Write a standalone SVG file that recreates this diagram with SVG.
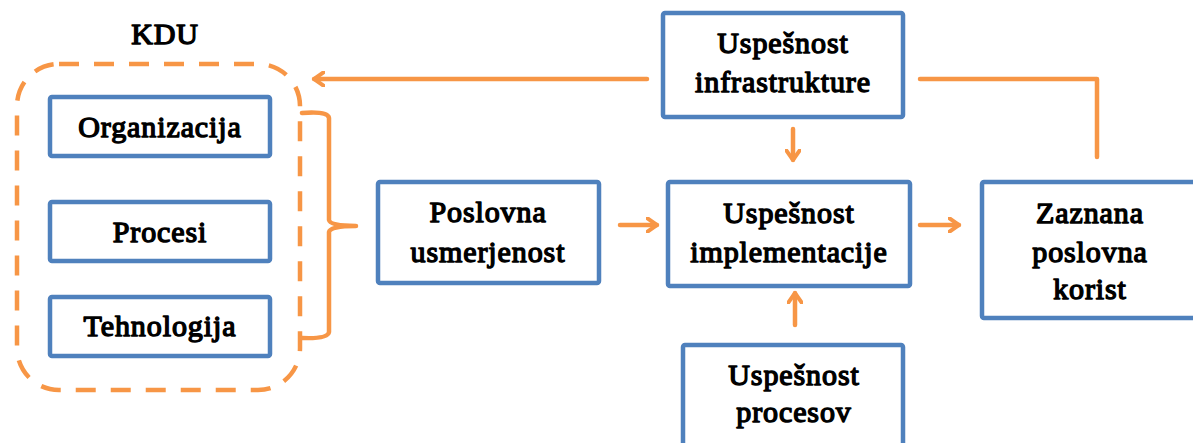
<svg xmlns="http://www.w3.org/2000/svg" width="1193" height="443" viewBox="0 0 1193 443">
<style>
.box{fill:#fff;stroke:#4F81BD;stroke-width:4.5}
.t{font-family:'Liberation Serif','Times New Roman',serif;font-weight:400;font-size:30px;letter-spacing:0.9px;text-anchor:middle;fill:#000;stroke:#000;stroke-width:1.4px;stroke-linejoin:round}
.c{fill:none;stroke:#F79646;stroke-width:4.5;stroke-linecap:round;stroke-linejoin:round}
</style>
<defs>
<marker id="ah" viewBox="0 0 12 16" refX="11" refY="8" markerWidth="12" markerHeight="16" markerUnits="userSpaceOnUse" orient="auto">
<path d="M1,1 L11,8 L1,15" fill="none" stroke="#F79646" stroke-width="4" stroke-linecap="round" stroke-linejoin="round"/>
</marker>
</defs>
<rect width="1193" height="443" fill="#fff"/>
<g id="kdu">
<rect x="17" y="64" width="283" height="326" rx="42" fill="none" stroke="#F79646" stroke-width="4.5" stroke-dasharray="20,15"/>
<text class="t" x="165" y="44">KDU</text>
</g>
<g id="organizacija"><rect class="box" x="50" y="97" width="220" height="59" rx="2"/><text class="t" x="160" y="137">Organizacija</text></g>
<g id="procesi"><rect class="box" x="50" y="202" width="220" height="59" rx="2"/><text class="t" x="160" y="242">Procesi</text></g>
<g id="tehnologija"><rect class="box" x="50" y="297" width="220" height="59" rx="2"/><text class="t" x="160" y="336">Tehnologija</text></g>
<g id="poslovna"><rect class="box" x="378" y="182" width="221" height="101" rx="2"/><text class="t" x="488" y="222">Poslovna</text><text class="t" x="488" y="262">usmerjenost</text></g>
<g id="infrastruktura"><rect class="box" x="663" y="13" width="240" height="104" rx="2"/><text class="t" x="783" y="53">Uspešnost</text><text class="t" x="783" y="92">infrastrukture</text></g>
<g id="implementacija"><rect class="box" x="668" y="182" width="242" height="104" rx="2"/><text class="t" x="789" y="223">Uspešnost</text><text class="t" x="789" y="262">implementacije</text></g>
<g id="korist"><rect class="box" x="982" y="182" width="230" height="136" rx="2"/><text class="t" x="1090" y="223">Zaznana</text><text class="t" x="1090" y="262">poslovna</text><text class="t" x="1090" y="299">korist</text></g>
<g id="procesov"><rect class="box" x="683" y="345" width="220" height="120" rx="2"/><text class="t" x="794" y="385">Uspešnost</text><text class="t" x="794" y="422">procesov</text></g>
<g id="connectors">
<path class="c" d="M1097,157 L1097,79 L920,79"/>
<path class="c" d="M647,79 L314,79" marker-end="url(#ah)"/>
<path class="c" d="M793,129 L793,160" marker-end="url(#ah)"/>
<path class="c" d="M795,325 L795,293" marker-end="url(#ah)"/>
<path class="c" d="M620,225 L657,225" marker-end="url(#ah)"/>
<path class="c" d="M920,225 L959,225" marker-end="url(#ah)"/>
<path class="c" d="M302,113 Q328,111 329,118 L329,220 Q330,226 356,226 Q330,226 329,232 L329,332 Q328,339 302,338"/>
</g>
</svg>
